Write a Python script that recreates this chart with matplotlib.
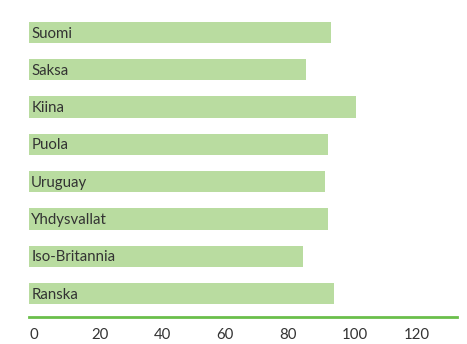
import matplotlib
matplotlib.use('Agg')
import matplotlib.pyplot as plt

# data
countries = ['Suomi', 'Saksa', 'Kiina', 'Puola', 'Uruguay',
             'Yhdysvallat', 'Iso-Britannia', 'Ranska']
values = [96.6, 88.6, 104.6, 95.7, 94.7, 95.7, 87.7, 97.6]
xticks = [0, 20, 40, 60, 80, 100, 120]

bar_color = '#b9dca0'
line_color = '#6abf4b'
text_color = '#333333'

plt.rcParams['font.family'] = ['Lato', 'DejaVu Sans']

fig = plt.figure(figsize=(4.67, 3.44), dpi=100)
ax = fig.add_axes([29 / 467, 27 / 344, 428 / 467, 308 / 344])

pos = list(range(len(countries)))
ax.barh(pos, values, height=0.57, color=bar_color, left=0)

for i, name in enumerate(countries):
    ax.text(0.7, i + 0.03, name, ha='left', va='center', fontsize=10.8, color=text_color)

ax.set_xlim(0, 137)
ax.set_ylim(len(countries) - 1 + 0.63, -0.63)

for s in ['top', 'right', 'left']:
    ax.spines[s].set_visible(False)
ax.spines['bottom'].set_color(line_color)
ax.spines['bottom'].set_linewidth(2)

ax.set_yticks([])
ax.set_xticks(xticks)
ax.set_xticklabels([str(t) for t in xticks], ha='left')
ax.tick_params(axis='x', length=0, pad=8, labelsize=10.8, labelcolor=text_color)

fig.savefig('out.png', dpi=100)
